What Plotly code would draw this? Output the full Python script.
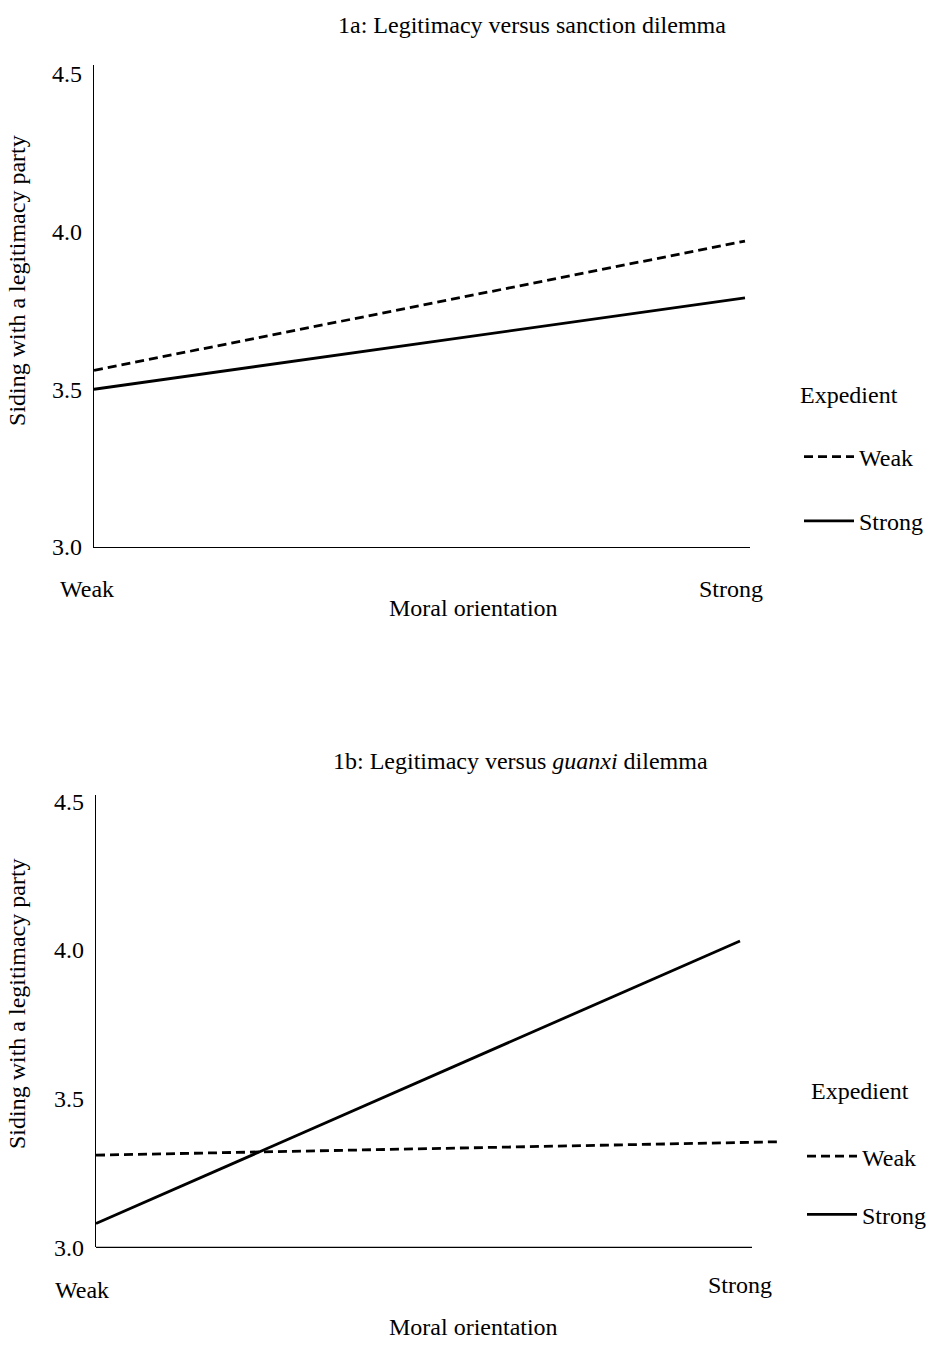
import plotly.graph_objects as go

# ---------------- data ----------------
categories = ["Weak", "Strong"]          # moral orientation
x_pos = [0, 1]
series_names = ["Weak", "Strong"]       # expedient

# panel 1a: legitimacy versus sanction dilemma
a_weak = [3.56, 3.97]
a_strong = [3.50, 3.79]

# panel 1b: legitimacy versus guanxi dilemma
b_weak_x = [0, 1.059]
b_weak = [3.31, 3.355]
b_strong = [3.08, 4.03]

y_ticks = [3.0, 3.5, 4.0, 4.5]
y_ticktext = ["3.0", "3.5", "4.0", "4.5"]

W, H = 932, 1353
FONT = "Liberation Serif"
FS = 24

def px(x):
    return x / W

def py(y):
    return 1 - y / H

fig = go.Figure()

dash = "9px,5px"
lw = 2.8

fig.add_trace(go.Scatter(x=x_pos, y=a_weak, mode="lines", name=series_names[0],
                         line=dict(color="black", width=lw, dash=dash),
                         legend="legend", legendgroup="a1", xaxis="x", yaxis="y"))
fig.add_trace(go.Scatter(x=x_pos, y=a_strong, mode="lines", name=series_names[1],
                         line=dict(color="black", width=lw),
                         legend="legend", legendgroup="a2", xaxis="x", yaxis="y"))
fig.add_trace(go.Scatter(x=b_weak_x, y=b_weak, mode="lines", name=series_names[0],
                         line=dict(color="black", width=lw, dash=dash),
                         legend="legend2", legendgroup="b1", xaxis="x2", yaxis="y2"))
fig.add_trace(go.Scatter(x=x_pos, y=b_strong, mode="lines", name=series_names[1],
                         line=dict(color="black", width=lw),
                         legend="legend2", legendgroup="b2", xaxis="x2", yaxis="y2"))

axis_common = dict(showgrid=False, zeroline=False, ticks="", color="black",
                   linecolor="black", linewidth=1.3,
                   tickfont=dict(family=FONT, size=FS, color="black"))

fig.update_layout(
    width=W, height=H,
    margin=dict(l=0, r=0, t=0, b=0),
    paper_bgcolor="white", plot_bgcolor="white",
    font=dict(family=FONT, size=FS, color="black"),
    xaxis=dict(domain=[px(94), px(750)], range=[0, 1.0077], showline=True,
               showticklabels=False, anchor="y", **axis_common),
    yaxis=dict(domain=[py(548), py(59)], range=[3, 4.528], showline=True,
               tickvals=y_ticks, ticktext=y_ticktext, ticklabelstandoff=6,
               anchor="x", **axis_common),
    xaxis2=dict(domain=[px(96), px(780)], range=[0, 1.0621], showline=False,
                showticklabels=False, anchor="y2", **axis_common),
    yaxis2=dict(domain=[py(1259), py(800)], range=[3, 4.52], showline=True,
                tickvals=y_ticks, ticktext=y_ticktext, ticklabelstandoff=6,
                anchor="x2", **axis_common),
    legend=dict(x=px(799), y=py(434), xanchor="left", yanchor="top",
                traceorder="grouped", tracegroupgap=30, itemwidth=50,
                font=dict(family=FONT, size=FS, color="black"),
                bgcolor="rgba(0,0,0,0)"),
    legend2=dict(x=px(802), y=py(1144), xanchor="left", yanchor="top",
                 traceorder="grouped", tracegroupgap=24, itemwidth=50,
                 font=dict(family=FONT, size=FS, color="black"),
                 bgcolor="rgba(0,0,0,0)"),
    showlegend=True,
)

# bottom x-axis line (ends before the extended dashed line)
fig.add_shape(type="line", xref="paper", yref="paper",
              x0=px(96), x1=px(752), y0=py(1259), y1=py(1259),
              line=dict(color="black", width=1.3))

ann = []
# titles
ann.append(dict(text="1a: Legitimacy versus sanction dilemma", x=px(532), y=py(18),
                xref="paper", yref="paper", showarrow=False, xanchor="center", yanchor="middle"))
ann.append(dict(text="1b: Legitimacy versus <i>guanxi</i> dilemma", x=px(520), y=py(765),
                xref="paper", yref="paper", showarrow=False, xanchor="center", yanchor="middle"))
# y axis titles
for yc in (278, 1012):
    ann.append(dict(text="Siding with a legitimacy party", x=px(17), y=py(yc), textangle=-90,
                    xref="paper", yref="paper", showarrow=False, xanchor="center", yanchor="middle"))
# x axis titles
ann.append(dict(text="Moral orientation", x=px(474), y=py(610), xref="paper", yref="paper",
                showarrow=False, xanchor="center", yanchor="middle"))
ann.append(dict(text="Moral orientation", x=px(474), y=py(1340), xref="paper", yref="paper",
                showarrow=False, xanchor="center", yanchor="middle"))
# category labels (moral orientation)
ann.append(dict(text=categories[0], x=x_pos[0], y=3, xref="x", yref="y", xshift=-7, yshift=-42,
                showarrow=False, xanchor="center", yanchor="middle"))
ann.append(dict(text=categories[1], x=x_pos[1], y=3, xref="x", yref="y", xshift=-14, yshift=-42,
                showarrow=False, xanchor="center", yanchor="middle"))
ann.append(dict(text=categories[0], x=x_pos[0], y=3, xref="x2", yref="y2", xshift=-14, yshift=-43,
                showarrow=False, xanchor="center", yanchor="middle"))
ann.append(dict(text=categories[1], x=x_pos[1], y=3, xref="x2", yref="y2", xshift=0, yshift=-38,
                showarrow=False, xanchor="center", yanchor="middle"))
# legend titles
ann.append(dict(text="Expedient", x=px(798), y=py(394), xref="paper", yref="paper",
                showarrow=False, xanchor="left", yanchor="middle"))
ann.append(dict(text="Expedient", x=px(809), y=py(1100), xref="paper", yref="paper",
                showarrow=False, xanchor="left", yanchor="middle"))

fig.update_layout(annotations=ann)

fig.write_html("out.html")
